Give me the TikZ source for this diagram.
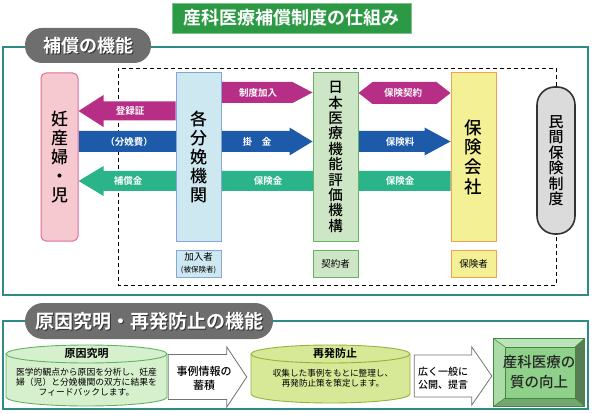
\documentclass[tikz,border=0pt]{standalone}
\usepackage{fontspec}
\setmainfont{Noto Sans CJK JP}[BoldFont={Noto Sans CJK JP Bold}]
\newfontfamily\medfont{Noto Sans CJK JP Medium}
\usetikzlibrary{calc}
\definecolor{teal1}{HTML}{2F8B85}
\definecolor{titleg}{HTML}{2C9A45}
\definecolor{pillg}{HTML}{6E6E6E}
\definecolor{mag}{HTML}{B72E86}
\definecolor{blu}{HTML}{1E5AAA}
\definecolor{grn}{HTML}{2BB48A}
\definecolor{pinkf}{HTML}{F6C8CF}
\definecolor{pinkd}{HTML}{DC6E98}
\definecolor{bluef}{HTML}{CDE8F0}
\definecolor{blued}{HTML}{86A6DA}
\definecolor{greenf}{HTML}{CDE6C6}
\definecolor{greend}{HTML}{64B262}
\definecolor{yelf}{HTML}{F3F096}
\definecolor{yeld}{HTML}{F5A04A}
\definecolor{cyaf}{HTML}{D6EFCC}
\definecolor{cyad}{HTML}{5FB464}
\definecolor{cybf}{HTML}{D7E896}
\definecolor{cybd}{HTML}{98B040}
\definecolor{qface}{HTML}{8FD08A}
\definecolor{qline}{HTML}{3F8A3F}
\pgfdeclarelayer{back}
\pgfdeclarelayer{mid}
\pgfsetlayers{back,mid,main}
\newcommand\barrow[6]{%
  \coordinate (bh) at ($(#3)!#6!(#2)$);
  \path[#1] ($(#2)!#4!90:(#3)$) -- ($(bh)!#4!90:(#3)$) -- ($(bh)!#5!90:(#3)$) -- (#3)
    -- ($(bh)!#5!-90:(#3)$) -- ($(bh)!#4!-90:(#3)$) -- ($(#2)!#4!-90:(#3)$) -- cycle;}
\newcommand\hexarrow[5]{%
  \coordinate (ha) at ($(#2)!#5!(#3)$);
  \coordinate (hb) at ($(#3)!#5!(#2)$);
  \path[#1] (#2) -- ($(ha)!#4!90:(#3)$) -- ($(hb)!#4!-90:(#2)$) -- (#3)
    -- ($(hb)!#4!90:(#2)$) -- ($(ha)!#4!-90:(#3)$) -- cycle;}
\begin{document}
\begin{tikzpicture}[x=1pt,y=-1pt,
  box/.style={draw, line width=1pt, inner sep=0pt, align=center, minimum width=45pt, minimum height=168pt},
  tag/.style={draw, line width=1pt, inner sep=0pt, align=center, minimum width=45pt, minimum height=27pt},
  albl/.style={text=white, font=\bfseries\fontsize{9.5}{10}\selectfont, inner sep=0pt},
  frame/.style={draw=teal1, line width=2pt},
  pill/.style={fill=pillg, inner sep=0pt},
  pilltxt/.style={font=\bfseries\fontsize{18}{20}\selectfont, inner sep=0pt},
  ctext/.style={inner sep=0pt, align=center},
  blockw/.style={draw=black!55, fill=white, line width=0.8pt},
  ]
\useasboundingbox (0,0) rectangle (594,414);

% title
\node[fill=titleg, draw=titleg!60!white, line width=0.8pt, minimum width=239pt, minimum height=30pt, inner sep=0pt, text=white, font=\bfseries\fontsize{18}{20}\selectfont] (title) at (291.5,18) {産科医療補償制度の仕組み};

% ===== upper section =====
\begin{pgfonlayer}{back}
\draw[frame] (3,47) rectangle (588,295);
\end{pgfonlayer}
\node[pill, rounded corners=17pt, minimum width=126pt, minimum height=35pt] (p1) at (88,45.5) {};
\node[pilltxt, text=black!80] (p1s) at ($(p1)+(1,1)$) {補償の機能};
\node[pilltxt, text=white] (p1t) at (p1) {補償の機能};

\node[box, fill=pinkf, draw=pinkd, rounded corners=5pt, minimum width=37pt, font=\medfont\fontsize{17}{19}\selectfont] (ninpu) at (59.5,157) {妊\\産\\婦\\・\\児};
\node[box, fill=bluef, draw=blued, font=\medfont\fontsize{17}{19}\selectfont] (kikan) at (198.5,157) {各\\分\\娩\\機\\関};
\node[box, fill=greenf, draw=greend, font=\medfont\fontsize{14.5}{15.4}\selectfont] (kikou) at (335.5,157) {日\\本\\医\\療\\機\\能\\評\\価\\機\\構};
\node[box, fill=yelf, draw=yeld, font=\medfont\fontsize{17.5}{19.7}\selectfont] (hoken) at (473.5,157) {保\\険\\会\\社};
\node[draw=black!80, line width=1.6pt, fill=black!14, rounded corners=18pt, minimum width=38pt, minimum height=147pt, inner sep=0pt, align=center, font=\medfont\fontsize{15}{15.5}\selectfont] (minkan) at (556,160.5) {民\\間\\保\\険\\制\\度};

\node[tag, fill=bluef, draw=blued] (kanyu) at (198.5,263.5) {{\fontsize{9.5}{10.5}\selectfont 加入者}\\{\fontsize{7.5}{9}\selectfont (被保険者)}};
\node[tag, fill=greenf, draw=greend, font=\fontsize{9.5}{11}\selectfont] (keiyaku) at (335.5,263.5) {契約者};
\node[tag, fill=yelf, draw=yeld, font=\fontsize{9.5}{11}\selectfont] (hokensha) at (473.5,263.5) {保険者};

\begin{pgfonlayer}{back}
\draw[dashed, line width=0.9pt, dash pattern=on 4pt off 3pt] (minkan.north) -- (minkan.north |- 0,68) -- (118,68) -- (118,285) -- (minkan.south |- 0,285) -- (minkan.south);
\end{pgfonlayer}

% arrow end points
\coordinate (m1s) at (kikan.west |- 0,111);
\coordinate (m1t) at (ninpu.east |- 0,111);
\coordinate (m2s) at (kikan.east |- 0,92.5);
\coordinate (m2t) at (kikou.west |- 0,92.5);
\coordinate (m3s) at (kikou.east |- 0,93);
\coordinate (m3t) at (hoken.west |- 0,93);
\coordinate (u1s) at (ninpu.east |- 0,141.5);
\coordinate (u1t) at (kikou.west |- 0,141.5);
\coordinate (u2s) at (kikou.east |- 0,141.5);
\coordinate (u2t) at (hoken.west |- 0,141.5);
\coordinate (g1s) at (hoken.west |- 0,181);
\coordinate (g1t) at (ninpu.east |- 0,181);

\begin{pgfonlayer}{mid}
\barrow{fill=mag}{m1s}{m1t}{9.5pt}{16pt}{25pt}
\barrow{fill=mag}{m2s}{m2t}{10.5pt}{10.5pt}{20pt}
\hexarrow{fill=mag}{m3s}{m3t}{11pt}{14pt}
\barrow{fill=blu}{u1s}{u1t}{10.5pt}{14pt}{23pt}
\barrow{fill=blu}{u2s}{u2t}{10.5pt}{14pt}{26pt}
\barrow{fill=grn}{g1s}{g1t}{10pt}{15pt}{25pt}
\end{pgfonlayer}

\node[albl] (l1) at (130,111) {登録証};
\node[albl] (l2) at (129,141.5) {（分娩費）};
\node[albl] (l3) at (128,181) {補償金};
\node[albl] (l4) at (258,93) {制度加入};
\node[albl] (l5) at (257,141.5) {掛　金};
\node[albl] (l6) at (268,181) {保険金};
\node[albl] (l7) at (403,93) {保険契約};
\node[albl] (l8) at (400,141.5) {保険料};
\node[albl] (l9) at (400,181) {保険金};

% ===== lower section =====
\begin{pgfonlayer}{back}
\draw[frame] (3,321) rectangle (588,409);
\end{pgfonlayer}
\node[pill, rounded corners=18pt, minimum width=248pt, minimum height=36pt] (p2) at (149,321) {};
\node[pilltxt, font=\bfseries\fontsize{19}{21}\selectfont, text=black!80] (p2s) at ($(p2)+(1,1)$) {原因究明・再発防止の機能};
\node[pilltxt, font=\bfseries\fontsize{19}{21}\selectfont, text=white] (p2t) at (p2) {原因究明・再発防止の機能};

% cylinder 1
\node[inner sep=0pt, minimum width=161pt, minimum height=61pt] (cyl1) at (86.5,377) {};
\fill[cyaf] (6,354) -- (6,397) arc[start angle=180, end angle=360, x radius=80.5pt, y radius=9pt] -- (167,354) -- cycle;
\draw[cyad, line width=0.9pt] (6,354) -- (6,397) arc[start angle=180, end angle=360, x radius=80.5pt, y radius=9pt] -- (167,354);
\filldraw[fill=cyaf, draw=cyad, line width=0.9pt] (86.5,354) ellipse[x radius=80.5pt, y radius=9pt];
\node[font=\bfseries\fontsize{11}{12}\selectfont, inner sep=0pt] (c1h) at (86.5,353.5) {原因究明};
\node[ctext, font=\fontsize{8.8}{10}\selectfont] (c1b) at (86.5,382) {医学的観点から原因を分析し、妊産\\婦（児）と分娩機関の双方に結果を\\フィードバックします。};

% cylinder 2
\node[inner sep=0pt, minimum width=159pt, minimum height=58pt] (cyl2) at (330.5,377) {};
\fill[cybf] (251,354) -- (251,394) arc[start angle=180, end angle=360, x radius=79.5pt, y radius=9pt] -- (410,354) -- cycle;
\draw[cybd, line width=0.9pt] (251,354) -- (251,394) arc[start angle=180, end angle=360, x radius=79.5pt, y radius=9pt] -- (410,354);
\filldraw[fill=cybf, draw=cybd, line width=0.9pt] (330.5,354) ellipse[x radius=79.5pt, y radius=9pt];
\node[font=\bfseries\fontsize{11}{12}\selectfont, inner sep=0pt] (c2h) at (335,353.5) {再発防止};
\node[ctext, font=\fontsize{8.6}{10}\selectfont] (c2b) at (333,378) {収集した事例をもとに整理し、\\再発防止策を策定します。};

% quality box (bevel)
\node[inner sep=0pt, minimum width=90pt, minimum height=67pt] (qual) at (539,372.5) {};
\fill[qface!60!white] (qual.north west) -- (qual.north east) -- ($(qual.north east)+(-9,8)$) -- ($(qual.north west)+(11,8)$) -- cycle;
\fill[qface!75!white] (qual.north west) -- ($(qual.north west)+(11,8)$) -- ($(qual.south west)+(11,-8)$) -- (qual.south west) -- cycle;
\fill[qface!60!black] (qual.north east) -- (qual.south east) -- ($(qual.south east)+(-9,-8)$) -- ($(qual.north east)+(-9,8)$) -- cycle;
\fill[qface!80!black] (qual.south west) -- (qual.south east) -- ($(qual.south east)+(-9,-8)$) -- ($(qual.south west)+(11,-8)$) -- cycle;
\filldraw[fill=qface, draw=qline, line width=0.5pt] ($(qual.north west)+(11,8)$) rectangle ($(qual.south east)+(-9,-8)$);
\draw[qline, line width=0.8pt] (qual.north west) rectangle (qual.south east);
\draw[qline, line width=0.5pt] (qual.north west) -- ($(qual.north west)+(11,8)$)
  (qual.north east) -- ($(qual.north east)+(-9,8)$)
  (qual.south west) -- ($(qual.south west)+(11,-8)$)
  (qual.south east) -- ($(qual.south east)+(-9,-8)$);
\node[ctext, font=\medfont\fontsize{14.5}{20}\selectfont, text=black!85] (qt) at (qual) {産科医療の\\質の向上};

% lower block arrows
\coordinate (b1s) at ($(cyl1.east)+(1,0)$);
\coordinate (b1t) at ($(cyl2.west)+(-4,0)$);
\coordinate (b2s) at ($(cyl2.east)+(4,-1)$);
\coordinate (b2t) at ($(qual.west |- b2s)+(-2,0)$);
\barrow{blockw}{b1s}{b1t}{22.5pt}{30pt}{20pt}
\barrow{blockw}{b2s}{b2t}{21pt}{29pt}{20pt}
\node[ctext, font=\medfont\fontsize{11}{14}\selectfont] (bt1) at (204,378) {事例情報の\\蓄積};
\node[ctext, font=\medfont\fontsize{10}{12.5}\selectfont] (bt2) at (443,378) {広く一般に\\公開、提言};
\end{tikzpicture}
\end{document}
